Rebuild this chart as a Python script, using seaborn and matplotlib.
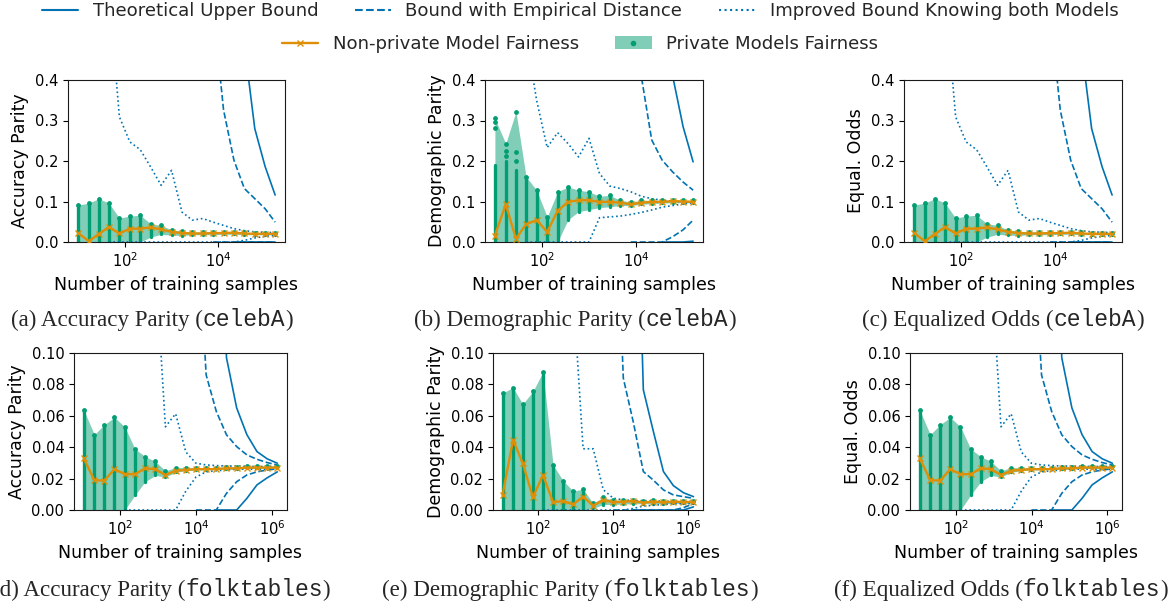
import numpy as np
import matplotlib
matplotlib.use("Agg")
import matplotlib.pyplot as plt
import seaborn as sns
from matplotlib.lines import Line2D
from matplotlib.patches import Patch
from matplotlib.ticker import FixedLocator, NullLocator

_ = np.nan  # point lies far above the plotted range

# training set sizes (x axis)
n_celeba = [10, 17, 28, 46, 77, 129, 215, 359, 599, 1000, 1670, 2780, 4640,
            7730, 12900, 21500, 35900, 59900, 99800, 163000]
n_folk = [11, 21, 38, 71, 132, 245, 453, 839, 1550, 2880, 5330, 9860, 18300,
          33800, 62600, 116000, 215000, 397000, 736000, 1360000]

# ---- (a) accuracy parity, celebA
acc_celeba_np = [0.023, 0.002, 0.020, 0.037, 0.021, 0.033, 0.033, 0.036, 0.031, 0.025,
                 0.022, 0.021, 0.021, 0.022, 0.022, 0.023, 0.021, 0.020, 0.020, 0.020]
acc_celeba_hi = [0.091, 0.096, 0.107, 0.096, 0.059, 0.064, 0.066, 0.045, 0.041, 0.030,
                 0.027, 0.025, 0.025, 0.025, 0.025, 0.025, 0.024, 0.023, 0.023, 0.023]
acc_celeba_lo = [0, 0, 0, 0, 0, 0, 0, 0.012, 0.019, 0.017,
                 0.016, 0.018, 0.018, 0.018, 0.019, 0.019, 0.018, 0.018, 0.018, 0.018]
acc_celeba_theo_up = [_, _, _, _, _, _, _, _, _, _, _, _, _, _, _, 2.0, 0.487, 0.280, 0.186, 0.116]
acc_celeba_theo_lo = [_, _, _, _, _, _, _, _, _, _, _, _, _, _, _, 0, 0, 0, 0, 0]
acc_celeba_emp_up = [_, _, _, _, _, _, _, _, _, _, _, _, _, 0.58, 0.326, 0.202, 0.132, 0.107, 0.082, 0.049]
acc_celeba_emp_lo = [_, _, _, _, _, _, _, _, _, _, _, _, _, 0, 0, 0, 0, 0, 0, 0]
acc_celeba_imp_up = [_, _, _, 0.62, 0.309, 0.247, 0.228, 0.185, 0.140, 0.177,
                     0.074, 0.054, 0.058, 0.049, 0.041, 0.033, 0.028, 0.025, 0.024, 0.023]
acc_celeba_imp_lo = [_, _, _, 0, 0, 0, 0, 0, 0, 0, 0, 0, 0, 0, 0, 0, 0.004, 0.010, 0.014, 0.016]

# ---- (b) demographic parity, celebA
dp_celeba_np = [0.016, 0.093, 0.008, 0.044, 0.054, 0.025, 0.077, 0.099, 0.103, 0.103,
                0.099, 0.099, 0.097, 0.093, 0.097, 0.099, 0.099, 0.101, 0.100, 0.099]
dp_celeba_hi = [0.305, 0.243, 0.322, 0.161, 0.128, 0.062, 0.124, 0.136, 0.128, 0.124,
                0.113, 0.115, 0.103, 0.099, 0.103, 0.103, 0.103, 0.103, 0.103, 0.103]
dp_celeba_dense = [0.190, 0.200, 0.177, 0.161, 0.128, 0.062, 0.124, 0.136, 0.128, 0.124,
                   0.113, 0.115, 0.103, 0.099, 0.103, 0.103, 0.103, 0.103, 0.103, 0.103]
dp_celeba_lo = [0, 0, 0, 0, 0, 0, 0, 0.055, 0.075, 0.080,
                0.085, 0.087, 0.090, 0.090, 0.093, 0.095, 0.096, 0.097, 0.097, 0.097]
dp_celeba_extra_idx = [0, 0, 1, 1, 2, 2]
dp_celeba_extra_val = [0.282, 0.297, 0.212, 0.225, 0.200, 0.223]
dp_celeba_theo_up = [_, _, _, _, _, _, _, _, _, _, _, _, _, _, _, _, 0.9, 0.41, 0.285, 0.198]
dp_celeba_theo_lo = [_, _, _, _, _, _, _, _, _, _, _, _, _, _, _, _, 0, 0, 0, 0.002]
dp_celeba_emp_up = [_, _, _, _, _, _, _, _, _, _, _, _, _, 0.9, 0.41, 0.252, 0.202, 0.173, 0.148, 0.128]
dp_celeba_emp_lo = [_, _, _, _, _, _, _, _, _, _, _, _, _, 0, 0, 0, 0, 0.013, 0.030, 0.054]
dp_celeba_imp_up = [_, _, _, 0.51, 0.35, 0.233, 0.270, 0.243, 0.210, 0.256,
                    0.169, 0.138, 0.132, 0.124, 0.113, 0.107, 0.103, 0.101, 0.099, 0.099]
dp_celeba_imp_lo = [_, _, _, 0, 0, 0, 0, 0, 0, 0,
                    0.060, 0.062, 0.064, 0.068, 0.073, 0.079, 0.086, 0.090, 0.094, 0.097]

# ---- (d) accuracy parity, folktables
acc_folk_np = [0.033, 0.019, 0.0187, 0.026, 0.0228, 0.0228, 0.0266, 0.026, 0.0223, 0.025,
               0.0255, 0.026, 0.026, 0.026, 0.0266, 0.0265, 0.027, 0.027, 0.027, 0.027]
acc_folk_hi = [0.0638, 0.048, 0.0543, 0.059, 0.053, 0.039, 0.034, 0.031, 0.025, 0.027,
               0.027, 0.027, 0.027, 0.027, 0.0275, 0.0275, 0.028, 0.028, 0.028, 0.028]
acc_folk_lo = [0, 0, 0, 0, 0, 0.0095, 0.018, 0.022, 0.021, 0.024,
               0.025, 0.0255, 0.0255, 0.026, 0.026, 0.026, 0.0265, 0.0265, 0.0265, 0.0265]
acc_folk_theo_up = [_, _, _, _, _, _, _, _, _, _, _, _, _, 0.3, 0.097, 0.065, 0.048, 0.0372, 0.0326, 0.0298]
acc_folk_theo_lo = [_, _, _, _, _, _, _, _, _, _, _, _, _, 0, 0, 0, 0.0074, 0.016, 0.0205, 0.0243]
acc_folk_emp_up = [_, _, _, _, _, _, _, _, _, _, _, 0.2, 0.086, 0.0628, 0.0479, 0.0404, 0.0351, 0.0323, 0.0302, 0.0287]
acc_folk_emp_lo = [_, _, _, _, _, _, _, _, _, _, _, 0, 0, 0, 0.0106, 0.018, 0.0223, 0.0243, 0.0255, 0.0262]
acc_folk_imp_up = [_, _, _, _, _, _, _, 0.16, 0.053, 0.0613,
                   0.037, 0.0298, 0.0287, 0.0283, 0.028, 0.028, 0.0278, 0.0277, 0.0277, 0.0277]
acc_folk_imp_lo = [_, _, _, _, 0, 0, 0, 0, 0, 0,
                   0.012, 0.021, 0.0243, 0.025, 0.0255, 0.026, 0.026, 0.026, 0.026, 0.026]

# ---- (e) demographic parity, folktables
dp_folk_np = [0.0096, 0.0447, 0.0298, 0.0081, 0.0223, 0.0049, 0.0057, 0.0036, 0.0085, 0.0028,
              0.0064, 0.0049, 0.0053, 0.0057, 0.0047, 0.0053, 0.0049, 0.0053, 0.0051, 0.0051]
dp_folk_hi = [0.0745, 0.078, 0.0675, 0.0755, 0.088, 0.0287, 0.0187, 0.0121, 0.0132, 0.0043,
              0.0081, 0.0064, 0.0065, 0.0065, 0.006, 0.0062, 0.006, 0.006, 0.006, 0.006]
dp_folk_lo = [0, 0, 0, 0, 0, 0, 0, 0, 0, 0.001,
              0.0035, 0.0035, 0.0038, 0.004, 0.004, 0.004, 0.004, 0.0042, 0.0042, 0.0042]
dp_folk_theo_up = [_, _, _, _, _, _, _, _, _, _, _, _, _, 0.3, 0.0766, 0.05, 0.0245, 0.0155, 0.011, 0.0085]
dp_folk_theo_lo = [_, _, _, _, _, _, _, _, _, _, _, _, _, 0, 0, 0, 0, 0, 0, 0.002]
dp_folk_emp_up = [_, _, _, _, _, _, _, _, _, _, _, 0.25, 0.084, 0.056, 0.0245, 0.019, 0.0128, 0.0096, 0.0085, 0.0074]
dp_folk_emp_lo = [_, _, _, _, _, _, _, _, _, _, _, 0, 0, 0, 0, 0, 0, 0, 0.0015, 0.004]
dp_folk_imp_up = [_, _, _, _, _, _, _, 0.14, 0.039, 0.039,
                  0.013, 0.0075, 0.0065, 0.006, 0.006, 0.0058, 0.0056, 0.0055, 0.0054, 0.0054]
dp_folk_imp_lo = [_, _, _, _, 0, 0, 0, 0, 0, 0,
                  0, 0, 0, 0.001, 0.0025, 0.003, 0.0035, 0.004, 0.004, 0.0042]

sns.set_theme(style="ticks", palette="colorblind", rc={
    "axes.linewidth": 0.8, "axes.edgecolor": "0.1",
    "xtick.major.size": 3.5, "ytick.major.size": 3.5,
    "xtick.major.width": 0.8, "ytick.major.width": 0.8,
    "xtick.labelsize": 10.5, "ytick.labelsize": 10.5,
    "axes.labelsize": 12.5, "axes.labelcolor": "black",
    "xtick.color": "black", "ytick.color": "black",
})
plt.rcParams["font.family"] = ["DejaVu Sans"]
pal = sns.color_palette("colorblind")
blue, orange, green = pal[0], pal[1], pal[2]

W, H = 1174, 607
fig = plt.figure(figsize=(W / 100, H / 100), dpi=100)


def panel(box, n, nonpriv, lo, hi, bounds, ylim, yticks, ylabel, xticks,
          dense=None, extra_idx=(), extra_val=()):
    l, t, r, b = box
    ax = fig.add_axes([l / W, 1 - b / H, (r - l) / W, (b - t) / H])
    ax.set_xscale("log")
    if dense is None:
        dense = hi
    ax.fill_between(n, lo, hi, color=green, alpha=0.5, lw=0, zorder=1)
    ax.vlines(n, lo, dense, color=green, lw=2.4, capstyle="round", zorder=2)
    sns.scatterplot(x=n, y=hi, color=green, s=12, linewidth=0, ax=ax, zorder=3)
    if len(extra_idx):
        sns.scatterplot(x=[n[i] for i in extra_idx], y=list(extra_val), color=green,
                        s=12, linewidth=0, ax=ax, zorder=3)
    for vals, ls in bounds:
        sns.lineplot(x=n, y=vals, color=blue, linestyle=ls, lw=1.2, ax=ax,
                     errorbar=None, zorder=2.5)
    sns.lineplot(x=n, y=nonpriv, color=orange, marker="x", markersize=5,
                 markeredgecolor=orange, markeredgewidth=1.0, lw=1.7, ax=ax,
                 errorbar=None, zorder=4)
    # 5% margin on each side of the log range
    span = (n[-1] / n[0]) ** 0.05
    ax.set_xlim(n[0] / span, n[-1] * span)
    ax.set_ylim(*ylim)
    ax.set_yticks(yticks)
    ax.xaxis.set_major_locator(FixedLocator(xticks))
    ax.xaxis.set_minor_locator(NullLocator())
    ax.set_xlabel("Number of training samples")
    ax.set_ylabel(ylabel)
    return ax


top_ticks = [0, 0.1, 0.2, 0.3, 0.4]
bot_ticks = [0, 0.02, 0.04, 0.06, 0.08, 0.1]

acc_celeba_bounds = [(acc_celeba_theo_up, "-"), (acc_celeba_theo_lo, "-"),
                     (acc_celeba_emp_up, "--"), (acc_celeba_emp_lo, "--"),
                     (acc_celeba_imp_up, ":"), (acc_celeba_imp_lo, ":")]
dp_celeba_bounds = [(dp_celeba_theo_up, "-"), (dp_celeba_theo_lo, "-"),
                    (dp_celeba_emp_up, "--"), (dp_celeba_emp_lo, "--"),
                    (dp_celeba_imp_up, ":"), (dp_celeba_imp_lo, ":")]
acc_folk_bounds = [(acc_folk_theo_up, "-"), (acc_folk_theo_lo, "-"),
                   (acc_folk_emp_up, "--"), (acc_folk_emp_lo, "--"),
                   (acc_folk_imp_up, ":"), (acc_folk_imp_lo, ":")]
dp_folk_bounds = [(dp_folk_theo_up, "-"), (dp_folk_theo_lo, "-"),
                  (dp_folk_emp_up, "--"), (dp_folk_emp_lo, "--"),
                  (dp_folk_imp_up, ":"), (dp_folk_imp_lo, ":")]

# equalized odds panels show the same curves as accuracy parity
panel((68, 80, 285, 242), n_celeba, acc_celeba_np, acc_celeba_lo, acc_celeba_hi,
      acc_celeba_bounds, (0, 0.4), top_ticks, "Accuracy Parity", [1e2, 1e4])
panel((485, 80, 703, 242), n_celeba, dp_celeba_np, dp_celeba_lo, dp_celeba_hi,
      dp_celeba_bounds, (0, 0.4), top_ticks, "Demographic Parity", [1e2, 1e4],
      dense=dp_celeba_dense, extra_idx=dp_celeba_extra_idx, extra_val=dp_celeba_extra_val)
panel((904, 80, 1122, 242), n_celeba, acc_celeba_np, acc_celeba_lo, acc_celeba_hi,
      acc_celeba_bounds, (0, 0.4), top_ticks, "Equal. Odds", [1e2, 1e4])
panel((74, 353, 287, 510), n_folk, acc_folk_np, acc_folk_lo, acc_folk_hi,
      acc_folk_bounds, (0, 0.1), bot_ticks, "Accuracy Parity", [1e2, 1e4, 1e6])
panel((493, 353, 703, 510), n_folk, dp_folk_np, dp_folk_lo, dp_folk_hi,
      dp_folk_bounds, (0, 0.1), bot_ticks, "Demographic Parity", [1e2, 1e4, 1e6])
panel((910, 353, 1122, 510), n_folk, acc_folk_np, acc_folk_lo, acc_folk_hi,
      acc_folk_bounds, (0, 0.1), bot_ticks, "Equal. Odds", [1e2, 1e4, 1e6])

# legends
h1 = [Line2D([], [], color=blue, ls="-", lw=1.5),
      Line2D([], [], color=blue, ls="--", lw=1.5),
      Line2D([], [], color=blue, ls=":", lw=1.5)]
fig.legend(h1, ["Theoretical Upper Bound", "Bound with Empirical Distance",
                "Improved Bound Knowing both Models"],
           loc="center", bbox_to_anchor=(580 / W, 1 - 11 / H), ncol=3,
           frameon=False, fontsize=13.1)
h2 = [Line2D([], [], color=orange, lw=1.7, marker="x", markersize=5),
      (Patch(facecolor=green, alpha=0.5, lw=0),
       Line2D([], [], color=green, ls="", marker="o", markersize=3))]
fig.legend(h2, ["Non-private Model Fairness", "Private Models Fairness"],
           loc="center", bbox_to_anchor=(580 / W, 1 - 44 / H), ncol=2,
           frameon=False, fontsize=13.1)

# captions: serif text with a monospace dataset name
serif = ["Liberation Serif", "DejaVu Serif"]
mono = ["Liberation Mono", "DejaVu Sans Mono"]
captions = [(152, 320, "(a) Accuracy Parity (", "celebA"),
            (575, 320, "(b) Demographic Parity (", "celebA"),
            (1003, 320, "(c) Equalized Odds (", "celebA"),
            (161, 590, "(d) Accuracy Parity (", "folktables"),
            (570, 590, "(e) Demographic Parity (", "folktables"),
            (1001, 590, "(f) Equalized Odds (", "folktables")]
groups = []
for cx, cy, pre, name in captions:
    parts = [fig.text(0, 1 - cy / H, s, family=f, fontsize=16.6, va="center", ha="left")
             for s, f in [(pre, serif), (name, mono), (")", serif)]]
    groups.append((cx, parts))

fig.canvas.draw()
rend = fig.canvas.get_renderer()
for cx, parts in groups:
    widths = [p.get_window_extent(rend).width for p in parts]
    x = cx - sum(widths) / 2
    for p, w in zip(parts, widths):
        p.set_x(x / W)
        x += w

fig.savefig("out.png", dpi=100)
